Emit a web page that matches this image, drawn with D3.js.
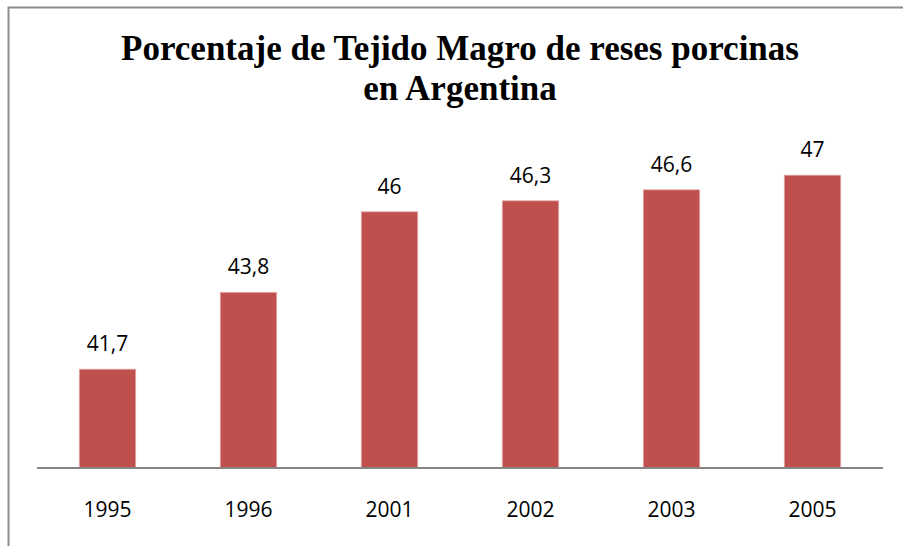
<!DOCTYPE html>
<html>
<head>
<meta charset="utf-8">
<script src="https://cdn.jsdelivr.net/npm/d3@7"></script>
<style>
  body { margin: 0; background: #fff; }
</style>
</head>
<body>
<script>
// data
var years = ["1995", "1996", "2001", "2002", "2003", "2005"];
var values = [41.7, 43.8, 46, 46.3, 46.6, 47];
var labels = ["41,7", "43,8", "46", "46,3", "46,6", "47"];

var width = 903, height = 546;

var svg = d3.select("body").append("svg")
    .attr("width", width)
    .attr("height", height);

// chart frame, runs off the right and bottom edge
svg.append("rect")
    .attr("x", 8.5).attr("y", 7.5)
    .attr("width", width).attr("height", height)
    .attr("fill", "none")
    .attr("stroke", "#8c8c8c")
    .attr("stroke-width", 2);

// title
var title = svg.append("text")
    .attr("text-anchor", "middle")
    .style("font-family", "'Liberation Serif', 'Times New Roman', serif")
    .style("font-weight", "bold")
    .style("font-size", "35px")
    .attr("fill", "#000");
title.append("tspan").attr("x", 460).attr("y", 60).text("Porcentaje de Tejido Magro de reses porcinas");
title.append("tspan").attr("x", 460).attr("y", 100).text("en Argentina");

var x = d3.scaleBand()
    .domain(years)
    .range([37, 883])
    .paddingInner(0.6)
    .paddingOuter(0.3);

var y = d3.scaleLinear()
    .domain([39, 48])
    .range([468, 138.6]);

// bars
svg.selectAll("rect.bar")
    .data(values)
    .enter().append("rect")
    .attr("class", "bar")
    .attr("x", function(d, i) { return x(years[i]); })
    .attr("y", function(d) { return y(d); })
    .attr("width", x.bandwidth())
    .attr("height", function(d) { return y(39) - y(d); })
    .attr("fill", "#c0504d")
    .attr("stroke", "#e3a9a7")
    .attr("stroke-width", 0.8);

// value labels
svg.selectAll("text.val")
    .data(values)
    .enter().append("text")
    .attr("class", "val")
    .attr("x", function(d, i) { return x(years[i]) + x.bandwidth() / 2; })
    .attr("y", function(d) { return y(d) - 18; })
    .attr("text-anchor", "middle")
    .style("font-family", "'Open Sans', sans-serif")
    .style("font-size", "21px")
    .attr("fill", "#000")
    .text(function(d, i) { return labels[i]; });

// x axis
var xAxis = svg.append("g")
    .attr("transform", "translate(0," + y(39) + ")")
    .call(d3.axisBottom(x).tickSize(0).tickPadding(0));
xAxis.select(".domain")
    .attr("d", "M37,0H883")
    .attr("stroke", "#868686")
    .attr("stroke-width", 2);
xAxis.selectAll("text")
    .attr("y", 49)
    .attr("dy", null)
    .style("font-family", "'Open Sans', sans-serif")
    .style("font-size", "21px")
    .attr("fill", "#000");
</script>
</body>
</html>
